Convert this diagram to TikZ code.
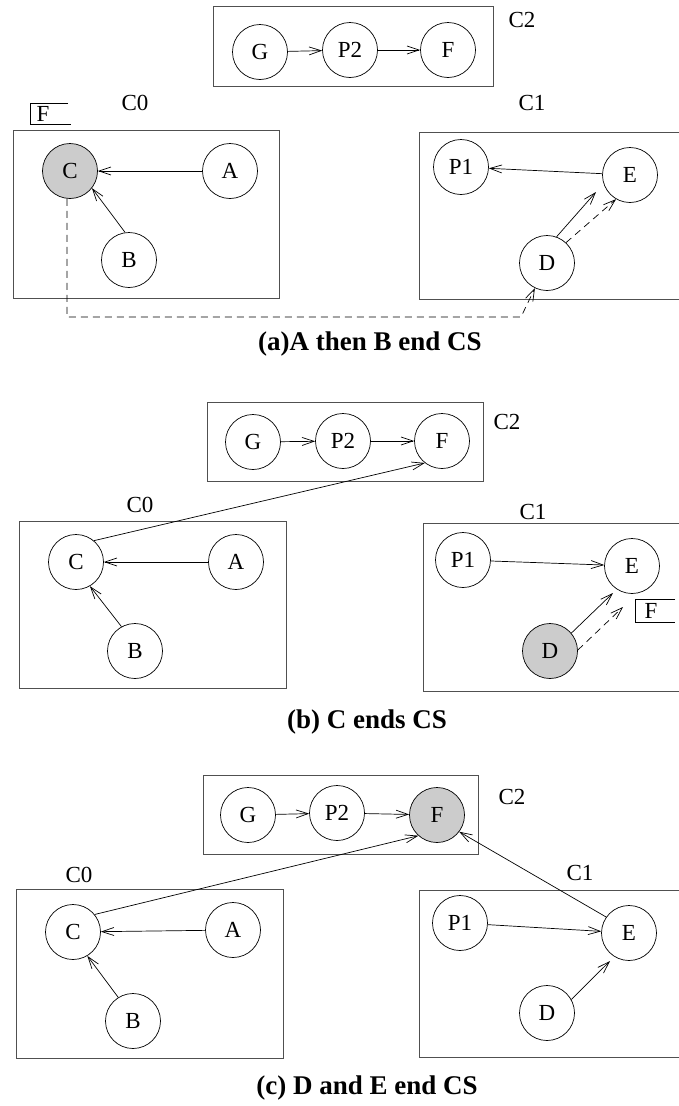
\documentclass[tikz,border=0pt]{standalone}
\usepackage{fontspec}
\setmainfont{Liberation Serif}
\usetikzlibrary{arrows.meta}
\definecolor{nodegray}{RGB}{204,204,204}
\definecolor{boxgray}{RGB}{80,80,80}
\begin{document}
\begin{tikzpicture}[x=1pt,y=-1pt,
 nd/.style={circle,draw,line width=0.7pt,minimum size=55pt,inner sep=0pt,font=\fontsize{23}{23}\selectfont},
 hl/.style={nd,fill=nodegray},
 grp/.style={draw=boxgray,line width=0.9pt},
 lbl/.style={font=\fontsize{23}{23}\selectfont,inner sep=0pt},
 captext/.style={font=\fontsize{27}{27}\selectfont\bfseries,inner sep=0pt},
 arr/.style={-{Straight Barb[length=12pt,width=8pt]},line width=0.7pt},
 dsh/.style={arr,dash pattern=on 7pt off 5pt},
 flagline/.style={line width=0.7pt},
]
\useasboundingbox (0,0) rectangle (678,1106);

% ---------------- panel (a) ----------------
\draw[grp] (213,6) rectangle (493,86);
\node[nd] (Ga) at (260,52) {G};
\node[nd] (P2a) at (350,50) {P2};
\node[nd] (Fa) at (448,50) {F};
\node[lbl] (C2a) at (522,20) {C2};
\draw[arr] (Ga) -- (P2a);
\draw[arr] (P2a) -- (Fa);

\node[lbl] (C0a) at (135,103) {C0};
\node[lbl] (flaga) at (43,114) {F};
\draw[flagline] (68,103) -- (30,103) -- (30,124) -- (71,124);
\draw[grp] (13,130) rectangle (279,298);
\node[hl] (Ca) at (70,171) {C};
\node[nd] (Aa) at (230,171) {A};
\node[nd] (Ba) at (129,260) {B};
\draw[arr] (Aa) -- (Ca);
\draw[arr] (Ba.98) -- (Ca.-38);

\node[lbl] (C1a) at (532,103) {C1};
\draw[grp] (680,132) -| (419,299) -- (680,299);
\node[nd] (P1a) at (461,167) {P1};
\node[nd] (Ea) at (630,175) {E};
\node[nd] (Da) at (547,263) {D};
\draw[arr] (Ea) -- (P1a);
\draw[arr] (Da.70) -- ([shift={(-34,17)}]Ea.center);
\draw[dsh] (Da.47) -- (Ea.240);
\coordinate (ka) at (521,317);
\draw[dsh] ([xshift=-3pt]Ca.south) |- (ka) -- (Da);

\node[captext] (capa) at (370,344) {(a)A then B end CS};

% ---------------- panel (b) ----------------
\draw[grp] (207,402) rectangle (483,481);
\node[nd] (Gb) at (253,442) {G};
\node[nd] (P2b) at (343,441) {P2};
\node[nd] (Fb) at (442,441) {F};
\node[lbl] (C2b) at (507,422) {C2};
\draw[arr] (Gb) -- (P2b);
\draw[arr] (P2b) -- (Fb);

\node[lbl] (C0b) at (140,505) {C0};
\draw[grp] (19,521) rectangle (286,688);
\node[nd] (Cb) at (76,562) {C};
\node[nd] (Ab) at (236,562) {A};
\node[nd] (Bb) at (135,651) {B};
\draw[arr] (Ab) -- (Cb);
\draw[arr] (Bb.119) -- (Cb.-60);
\draw[arr] (Cb.50) -- (Fb.232);

\node[lbl] (C1b) at (533,512) {C1};
\draw[grp] (680,523) -| (423,691) -- (680,691);
\node[nd] (P1b) at (463,560) {P1};
\node[nd] (Eb) at (632,566) {E};
\node[hl] (Db) at (550,651) {D};
\draw[arr] (P1b) -- (Eb);
\draw[arr] (Db.40) -- ([shift={(-19,27)}]Eb.center);
\draw[dsh] (Db.2) -- ([shift={(-9,41)}]Eb.center);
\node[lbl] (flagb) at (651,611) {F};
\draw[flagline] (675,599) -- (635,599) -- (635,622) -- (675,622);

\node[captext] (capb) at (367,722) {(b) C ends CS};

% ---------------- panel (c) ----------------
\draw[grp] (203,775) rectangle (478,854);
\node[nd] (Gc) at (248,815) {G};
\node[nd] (P2c) at (337,813) {P2};
\node[hl] (Fc) at (437,815) {F};
\node[lbl] (C2c) at (512,797) {C2};
\draw[arr] (Gc) -- (P2c);
\draw[arr] (P2c) -- (Fc);

\node[lbl] (C0c) at (79,875) {C0};
\draw[grp] (16,889) rectangle (283,1058);
\node[nd] (Cc) at (73,932) {C};
\node[nd] (Ac) at (233,930) {A};
\node[nd] (Bc) at (133,1021) {B};
\draw[arr] (Ac) -- (Cc);
\draw[arr] (Bc.122) -- (Cc.-59);
\draw[arr] (Cc.39) -- (Fc.228);

\node[lbl] (C1c) at (580,873) {C1};
\draw[grp] (680,890) -| (419,1057) -- (680,1057);
\node[nd] (P1c) at (460,923) {P1};
\node[nd] (Ec) at (629,933) {E};
\node[nd] (Dc) at (547,1013) {D};
\draw[arr] (P1c) -- (Ec);
\draw[arr] (Dc.29) -- ([shift={(-19,28)}]Ec.center);
\draw[arr] (Ec.145) -- (Fc.-37);

\node[captext] (capc) at (367,1088) {(c) D and E end CS};
\end{tikzpicture}
\end{document}
